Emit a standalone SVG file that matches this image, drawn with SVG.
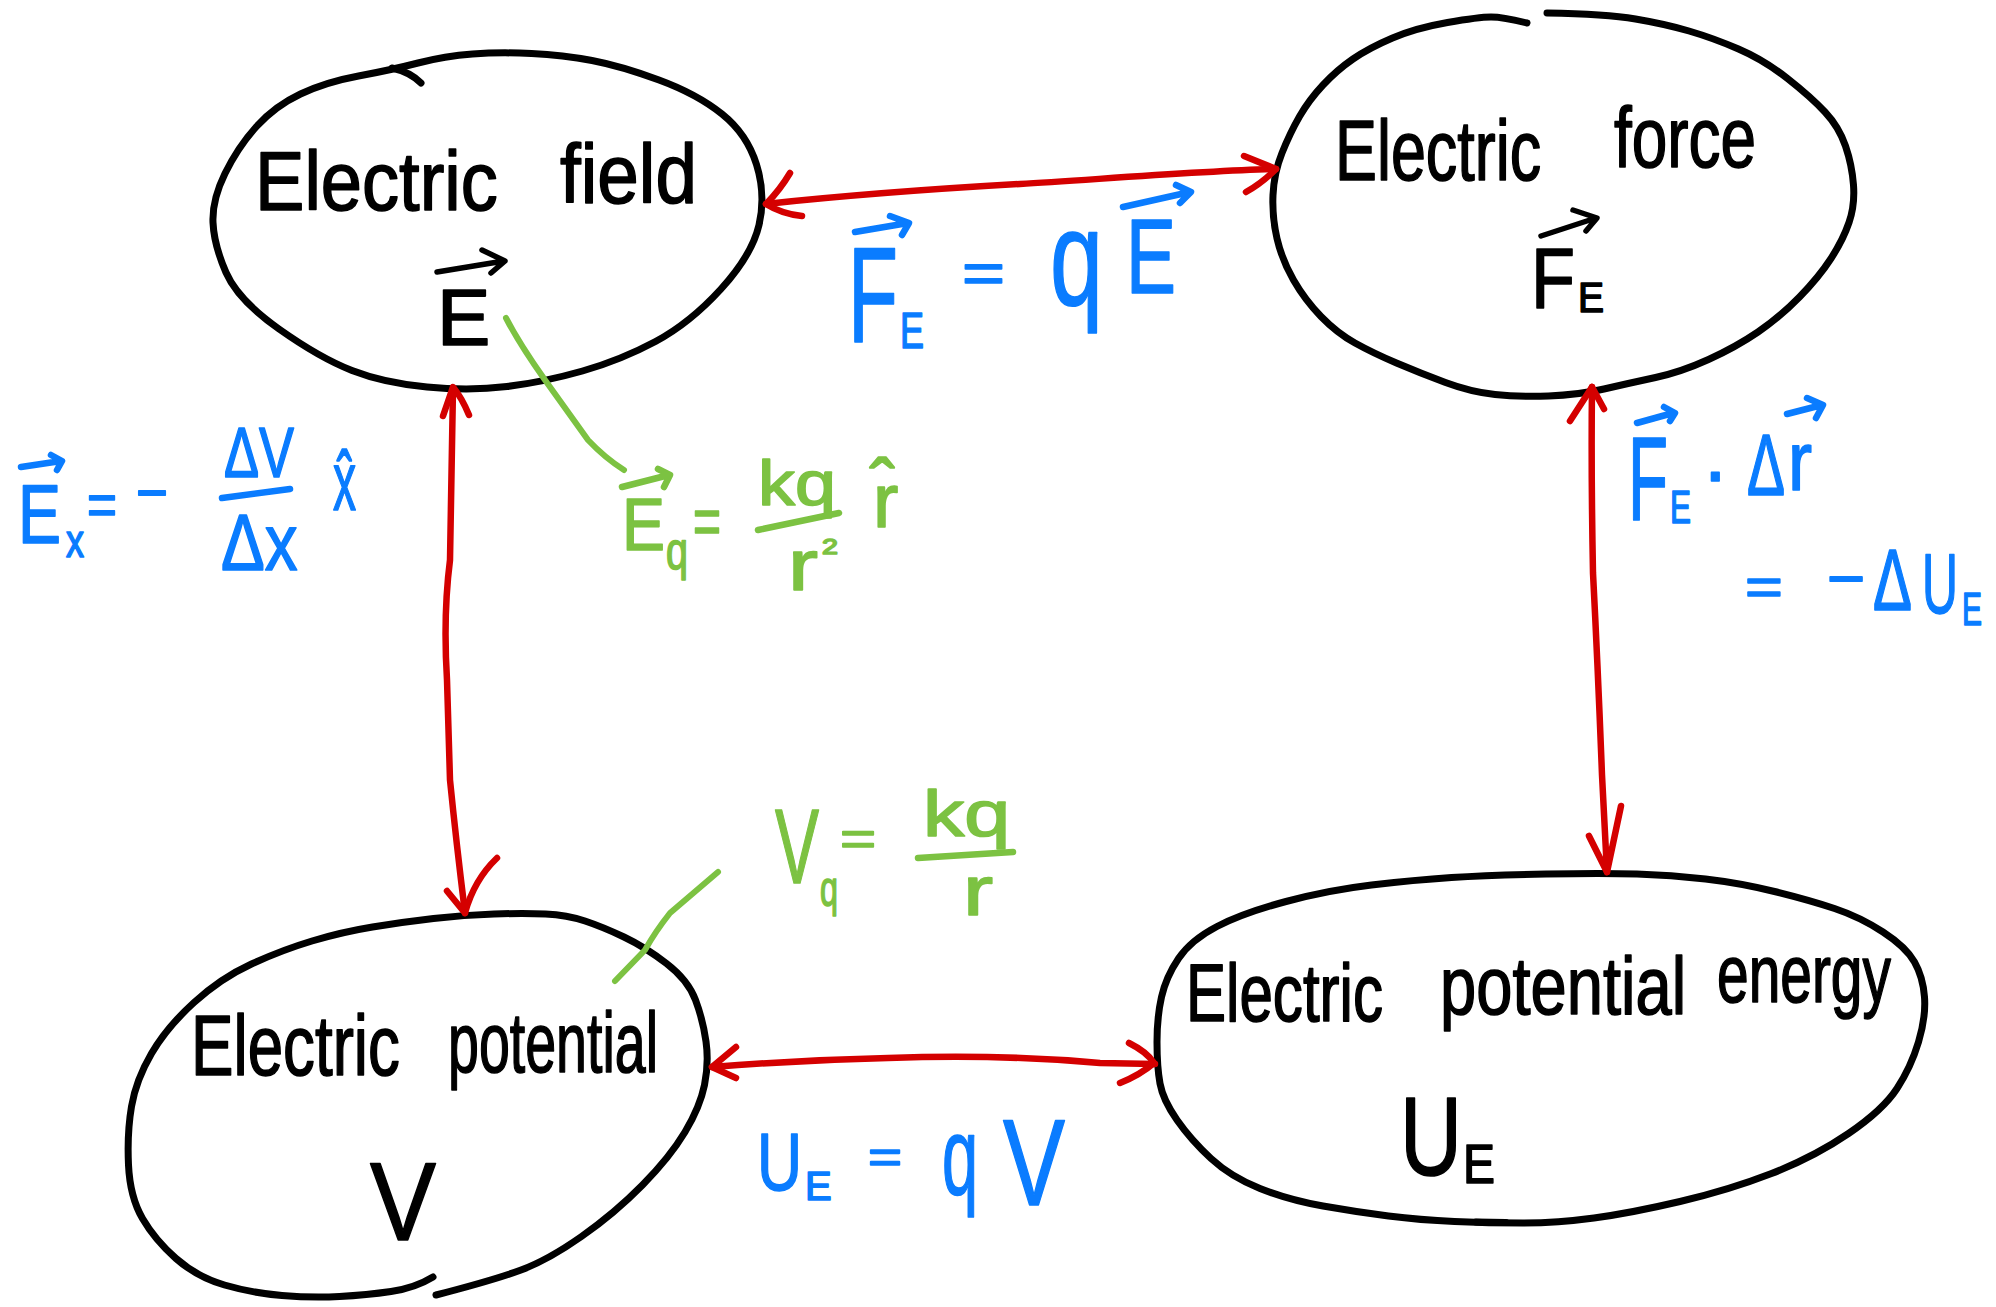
<svg xmlns="http://www.w3.org/2000/svg" width="1996" height="1307" viewBox="0 0 1996 1307">
<style>
.outline{fill:none;stroke:#000;stroke-width:7;stroke-linecap:round;stroke-linejoin:round}
.conn{fill:none;stroke:#d40000;stroke-width:6.5;stroke-linecap:round;stroke-linejoin:round}
.lead{fill:none;stroke:#7cc242;stroke-width:6;stroke-linecap:round;stroke-linejoin:round}
text{font-family:"Liberation Sans",Arial,sans-serif;stroke-linejoin:round}
.k{fill:#000;stroke:#000;stroke-width:1.6}
.b{fill:#0a7cff;stroke:#0a7cff;stroke-width:1.6}
.g{fill:#7cc242;stroke:#7cc242;stroke-width:1.6}
.vk{fill:none;stroke:#000;stroke-width:5.5;stroke-linecap:round;stroke-linejoin:round}
.vb{fill:none;stroke:#0a7cff;stroke-width:6.5;stroke-linecap:round;stroke-linejoin:round}
.vg{fill:none;stroke:#7cc242;stroke-width:6.5;stroke-linecap:round;stroke-linejoin:round}
</style>
<rect width="1996" height="1307" fill="#fff"/>

<g id="node-electric-field">
<path class="outline" d="M418,63 Q445,56 472.5,54 Q500,52 531.5,53.5 Q563,55 592,60.5 Q621,66 659,80 Q697,94 722,114 Q747,134 756.5,164.5 Q766,195 759,225 Q752,255 721,289 Q690,323 655.5,341.5 Q621,360 582.5,371 Q544,382 507,386.5 Q470,391 427,387 Q384,383 352,370.5 Q320,358 279,329 Q238,300 226,272.5 Q214,245 213,222.5 Q212,200 225,173.5 Q238,147 256.5,126.5 Q275,106 300.5,94 Q326,82 358.5,76 Q391,70 418,63 Z"/>
<path class="outline" d="M392,68 Q410,72 421,83"/>
<text class="k" font-size="84" transform="matrix(0.882 0 0 1 255 210)">Electric</text>
<text class="k" font-size="84" transform="matrix(0.889 0 0 1 560 203)">field</text>
<text class="k" font-size="80" x="437" y="345">E</text>
<path class="vk" d="M437,272 L504,261 M482,250 L505,261 L491,273"/>
</g>

<g id="node-electric-force">
<path class="outline" d="M1547,13 Q1606,14 1635.5,19 Q1665,24 1689,31 Q1713,38 1738.5,49 Q1764,60 1787.5,78.5 Q1811,97 1825,112 Q1839,127 1845.5,146 Q1852,165 1853.5,185 Q1855,205 1849,222.5 Q1843,240 1831,258.5 Q1819,277 1799.5,297 Q1780,317 1758,332 Q1736,347 1708.5,359.5 Q1681,372 1655.5,377.5 Q1630,383 1604,389 Q1578,395 1548.5,396 Q1519,397 1495,394.5 Q1471,392 1445.5,382.5 Q1420,373 1396.5,363 Q1373,353 1355,343 Q1337,333 1321,316.5 Q1305,300 1293.5,280 Q1282,260 1277,238.5 Q1272,217 1273,195 Q1274,173 1282,153 Q1290,133 1299.5,116.5 Q1309,100 1323,85 Q1337,70 1353,59 Q1369,48 1392.5,38 Q1416,28 1447.5,22.5 Q1479,17 1491,17 Q1503,17 1527,23"/>
<text class="k" font-size="86" transform="matrix(0.731 0 0 1 1335 180)">Electric</text>
<text class="k" font-size="86" transform="matrix(0.743 0 0 1 1614 167)">force</text>
<text class="k" font-size="86" transform="matrix(0.838 0 0 1 1531 308)">F</text>
<text class="k" font-size="42" transform="matrix(0.93 0 0 1 1578 312)">E</text>
<path class="vk" d="M1541,236 L1596,218 M1573,210 L1597,218 L1586,231"/>
</g>

<g id="node-electric-potential">
<path class="outline" d="M436,1295 Q494,1280 521,1270 Q548,1260 581.5,1236.5 Q615,1213 642.5,1185 Q670,1157 685,1132 Q700,1107 704.5,1085 Q709,1063 706,1041.5 Q703,1020 695.5,1000 Q688,980 666.5,963.5 Q645,947 624,937 Q603,927 585,921 Q567,915 545.5,914 Q524,913 494,914 Q464,915 433.5,918.5 Q403,922 372.5,927 Q342,932 312,941 Q282,950 251.5,964 Q221,978 194,1002.5 Q167,1027 151.5,1053.5 Q136,1080 131.5,1106.5 Q127,1133 128.5,1165 Q130,1197 142.5,1218.5 Q155,1240 176,1258.5 Q197,1277 224.5,1285 Q252,1293 282,1295.5 Q312,1298 339.5,1296.5 Q367,1295 391,1291.5 Q415,1288 433,1277"/>
<text class="k" font-size="86" transform="matrix(0.741 0 0 1 191 1075)">Electric</text>
<text class="k" font-size="86" transform="matrix(0.646 0 0 1 448 1072)">potential</text>
<text class="k" font-size="112" transform="matrix(0.884 0 0 1 370 1240)">V</text>
</g>

<g id="node-electric-potential-energy">
<path class="outline" d="M1637,874 Q1671,875 1705.5,879 Q1740,883 1774.5,891.5 Q1809,900 1834.5,908.5 Q1860,917 1883,932 Q1906,947 1914.5,962 Q1923,977 1924.5,997 Q1926,1017 1918.5,1042 Q1911,1067 1897,1088.5 Q1883,1110 1848.5,1133.5 Q1814,1157 1771.5,1173.5 Q1729,1190 1680,1201.5 Q1631,1213 1594,1218 Q1557,1223 1523,1223 Q1489,1223 1454.5,1221.5 Q1420,1220 1388.5,1216 Q1357,1212 1323,1206 Q1289,1200 1260,1188.5 Q1231,1177 1211,1158.5 Q1191,1140 1177,1120 Q1163,1100 1160,1083.5 Q1157,1067 1157,1042 Q1157,1017 1161.5,997 Q1166,977 1178.5,958.5 Q1191,940 1217,926.5 Q1243,913 1286,901.5 Q1329,890 1371.5,885 Q1414,880 1451.5,877.5 Q1489,875 1546,874 Q1603,873 1637,874 Z"/>
<path class="outline" d="M1476,1222 L1506,1222.5" stroke-width="9"/>
<text class="k" font-size="82" transform="matrix(0.733 0 0 1 1186 1021)">Electric</text>
<text class="k" font-size="82" transform="matrix(0.794 0 0 1 1440 1014)">potential</text>
<text class="k" font-size="82" transform="matrix(0.694 0 0 1 1717 1002)">energy</text>
<text class="k" font-size="112" transform="matrix(0.767 0 0 1 1400 1175)">U</text>
<text class="k" font-size="55" transform="matrix(0.872 0 0 1 1463 1183)">E</text>
</g>

<g id="connectors">
<path class="conn" d="M766,204 C850,195 950,188 1020,184 S1200,171 1276,169"/>
<path class="conn" d="M790,173 Q780,190 766,204 Q782,214 802,216"/>
<path class="conn" d="M1244,156 L1276,169 Q1262,183 1246,192"/>
<path class="conn" d="M453,388 L450,560 Q443,615 447,680 L450,780 Q456,840 465,913"/>
<path class="conn" d="M443,416 L453,387 Q462,398 469,415"/>
<path class="conn" d="M447,891 L465,913 Q474,880 497,858"/>
<path class="conn" d="M1592,387 Q1591,470 1593,573 Q1598,670 1602,775 L1607,872"/>
<path class="conn" d="M1570,421 L1592,387 L1604,409"/>
<path class="conn" d="M1589,836 L1607,872 L1621,806"/>
<path class="conn" d="M712,1067 Q800,1060 888,1058 Q1000,1054 1100,1063 L1155,1064"/>
<path class="conn" d="M736,1047 L712,1067 L736,1078"/>
<path class="conn" d="M1129,1043 Q1147,1052 1154,1063 Q1140,1075 1120,1083"/>
<path class="lead" d="M506,318 Q520,345 545,380 L588,440 Q605,458 624,470"/>
<path class="lead" d="M718,872 L670,913 Q655,932 645,950 L615,981"/>
</g>

<g id="label-force-field">
<text class="b" font-size="135" transform="matrix(0.606 0 0 1 848 342)">F</text>
<text class="b" font-size="50" transform="matrix(0.719 0 0 1 900 348)">E</text>
<text class="b" font-size="58" transform="matrix(1.27 0 0 1 962 293)">=</text>
<text class="b" font-size="135" transform="matrix(0.706 0 0 1 1050 305)">q</text>
<text class="b" font-size="105" transform="matrix(0.714 0 0 1 1126 293)">E</text>
<path class="vb" d="M855,232 L908,223 M890,216 L909,223 L902,235"/>
<path class="vb" d="M1123,207 L1190,192 M1176,185 L1191,192 L1180,203"/>
</g>

<g id="label-field-potential">
<text class="b" font-size="84" transform="matrix(0.768 0 0 1 18 543)">E</text>
<text class="b" font-size="46" transform="matrix(0.783 0 0 1 66 557)">x</text>
<text class="b" font-size="60" transform="matrix(0.857 0 0 1 87 525)">=</text>
<text class="b" font-size="60" transform="matrix(0.914 0 0 1 136 513)">−</text>
<path class="vb" d="M21,467 L61,461 M51,455 L62,461 L57,470"/>
<text class="b" font-size="70" transform="matrix(0.75 0 0 1 224 477)">ΔV</text>
<path class="vb" d="M222,498 L290,489"/>
<text class="b" font-size="80" transform="matrix(0.82 0 0 1 221 570)">Δx</text>
<text class="b" font-size="84" transform="matrix(0.55 0 0 1 333 510)">x̂</text>
</g>

<g id="label-point-field">
<text class="g" font-size="75" transform="matrix(0.86 0 0 1 622 550)">E</text>
<text class="g" font-size="51" transform="matrix(0.775 0 0 1 666 569)">q</text>
<text class="g" font-size="66" transform="matrix(0.727 0 0 1 693 544)">=</text>
<path class="vg" d="M622,487 L669,475 M658,469 L670,475 L664,487"/>
<text class="g" font-size="62" transform="matrix(1.19 0 0 1 758 505)">kq</text>
<path class="vg" d="M758,530 L839,513"/>
<text class="g" font-size="72" transform="matrix(1.25 0 0 1 788 590)">r</text>
<text class="g" font-size="22" transform="matrix(1.3 0 0 1 822 554)">2</text>
<text class="g" font-size="76" x="873" y="527">r̂</text>
</g>

<g id="label-point-potential">
<text class="g" font-size="105" transform="matrix(0.629 0 0 1 775 883)">V</text>
<text class="g" font-size="50" transform="matrix(0.647 0 0 1 820 906)">q</text>
<text class="g" font-size="48" transform="matrix(1.29 0 0 1 840 855)">=</text>
<text class="g" font-size="64" transform="matrix(1.29 0 0 1 923 836)">kq</text>
<path class="vg" d="M918,858 L1013,852"/>
<text class="g" font-size="70" transform="matrix(1.29 0 0 1 963 915)">r</text>
</g>

<g id="label-energy-potential">
<text class="b" font-size="81" transform="matrix(0.77 0 0 1 757 1190)">U</text>
<text class="b" font-size="40" x="805" y="1200">E</text>
<text class="b" font-size="46" transform="matrix(1.27 0 0 1 868 1173)">=</text>
<text class="b" font-size="110" transform="matrix(0.59 0 0 1 942 1194)">q</text>
<text class="b" font-size="123" transform="matrix(0.756 0 0 1 1003 1205)">V</text>
</g>

<g id="label-work-energy">
<text class="b" font-size="118" transform="matrix(0.555 0 0 1 1628 520)">F</text>
<text class="b" font-size="46" transform="matrix(0.684 0 0 1 1670 523)">E</text>
<text class="b" font-size="80" x="1702" y="498">·</text>
<text class="b" font-size="87" transform="matrix(0.654 0 0 1 1747 495)">Δ</text>
<text class="b" font-size="83" transform="matrix(0.87 0 0 1 1788 490)">r</text>
<path class="vb" d="M1637,423 L1673,413 M1664,407 L1675,413 L1670,421"/>
<path class="vb" d="M1787,414 L1822,405 M1807,398 L1823,405 L1816,418"/>
<text class="b" font-size="54" transform="matrix(1.2 0 0 1 1745 605)">=</text>
<text class="b" font-size="60" transform="matrix(1.09 0 0 1 1827 599)">−</text>
<text class="b" font-size="88" transform="matrix(0.663 0 0 1 1873 610)">Δ</text>
<text class="b" font-size="85" transform="matrix(0.586 0 0 1 1922 613)">U</text>
<text class="b" font-size="46" transform="matrix(0.652 0 0 1 1962 625)">E</text>
</g>
</svg>
